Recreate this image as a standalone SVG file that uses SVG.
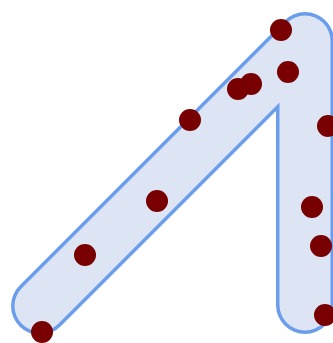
<svg xmlns="http://www.w3.org/2000/svg" width="333" height="343" viewBox="0 0 333 343">
<style>
.outline{fill:none;stroke:#6b9ded;stroke-width:58;stroke-linecap:round;stroke-linejoin:round}
.inner{fill:none;stroke:#dde5f5;stroke-width:51;stroke-linecap:round;stroke-linejoin:round}
.dot{fill:#780000}
</style>
<rect width="333" height="343" fill="#ffffff"/>
<g id="shape">
<polyline class="outline" points="40,306 305,41 305,305"/>
<polyline class="inner" points="40,306 305,41 305,305"/>
</g>
<g id="dots">
<circle class="dot" cx="281" cy="30" r="11"/>
<circle class="dot" cx="288" cy="72" r="11"/>
<circle class="dot" cx="238" cy="89" r="11"/>
<circle class="dot" cx="251" cy="84" r="11"/>
<circle class="dot" cx="190" cy="120" r="11"/>
<circle class="dot" cx="328" cy="126" r="11"/>
<circle class="dot" cx="157" cy="201" r="11"/>
<circle class="dot" cx="312" cy="207" r="11"/>
<circle class="dot" cx="321" cy="246" r="11"/>
<circle class="dot" cx="85" cy="255" r="11"/>
<circle class="dot" cx="325" cy="315" r="11"/>
<circle class="dot" cx="42" cy="332" r="11"/>
</g>
</svg>
